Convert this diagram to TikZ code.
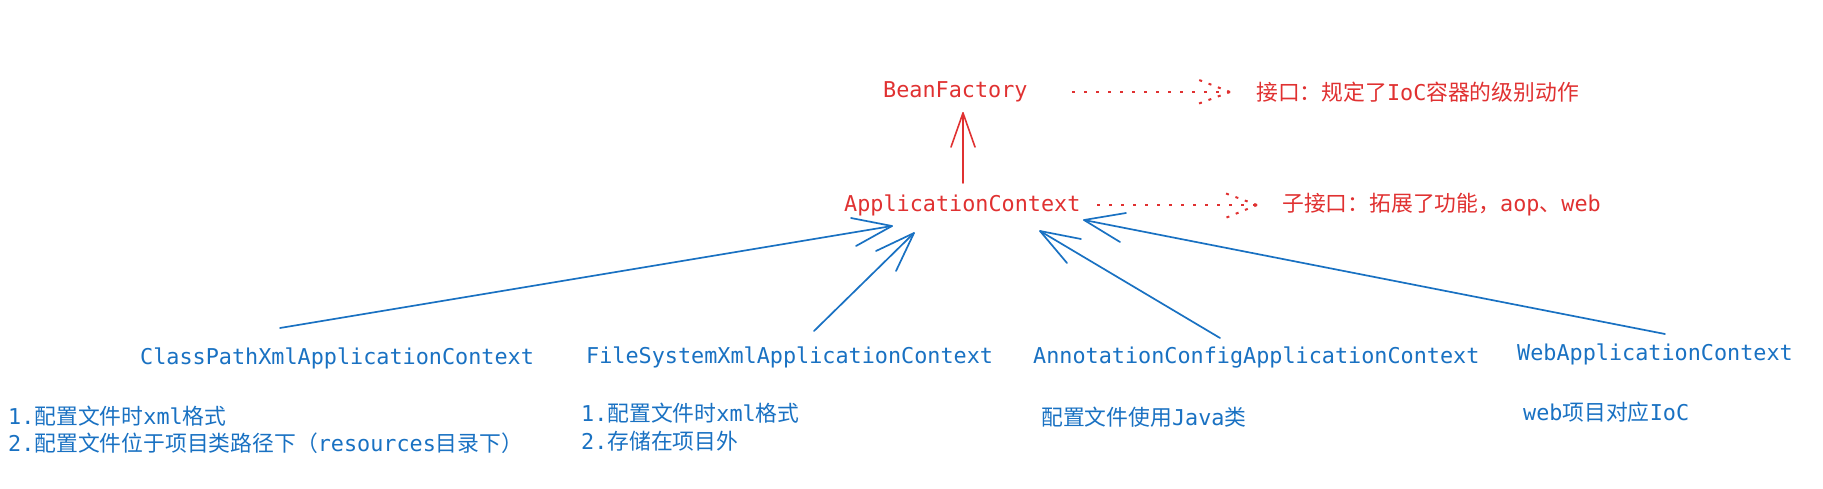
\documentclass[tikz,border=0pt]{standalone}
\usepackage{fontspec}
\setmainfont{DejaVu Sans Mono}
\newfontfamily\cjk{Noto Sans CJK SC}
\definecolor{xred}{HTML}{E03131}
\definecolor{xblue}{HTML}{1971C2}
\begin{document}
\begin{tikzpicture}[x=1pt,y=-1pt,
  lbl/.style={anchor=west, inner sep=0pt, font=\fontsize{21.8}{26}\selectfont},
  redtxt/.style={lbl, text=xred},
  bluetxt/.style={lbl, text=xblue},
  inh/.style={draw=xblue, line width=1.7pt, line cap=round, line join=round},
  ext/.style={draw=xred, line width=1.6pt, line cap=round, line join=round},
  dots/.style={draw=xred, line width=2pt, dash pattern=on 3pt off 9pt},
  headdots/.style={draw=xred, line width=2pt, dash pattern=on 3pt off 7pt}]
\useasboundingbox (0,0) rectangle (1823,488);
% nodes
\node[redtxt] (bf) at (883,92) {BeanFactory};
\node[redtxt] (ac) at (844,205) {ApplicationContext};
\node[redtxt] (l1) at (1256,92) {{\cjk 接口：规定了}IoC{\cjk 容器的级别动作}};
\node[redtxt] (l2) at (1282,205) {{\cjk 子接口：拓展了功能，}aop{\cjk 、}web};
\node[bluetxt] (cp) at (140,358) {ClassPathXmlApplicationContext};
\node[bluetxt] (fs) at (586,357) {FileSystemXmlApplicationContext};
\node[bluetxt] (an) at (1033,357) {AnnotationConfigApplicationContext};
\node[bluetxt] (wb) at (1517,354) {WebApplicationContext};
\node[bluetxt] (d1a) at (8,416) {1.{\cjk 配置文件时}xml{\cjk 格式}};
\node[bluetxt] (d1b) at (8,443) {2.{\cjk 配置文件位于项目类路径下（}resources{\cjk 目录下）}};
\node[bluetxt] (d2a) at (581,413) {1.{\cjk 配置文件时}xml{\cjk 格式}};
\node[bluetxt] (d2b) at (581,441) {2.{\cjk 存储在项目外}};
\node[bluetxt] (d3) at (1041,417) {{\cjk 配置文件使用}Java{\cjk 类}};
\node[bluetxt] (d4) at (1523,412) {web{\cjk 项目对应}IoC};
% connector end points
\coordinate (acB) at (963,183);
\coordinate (bfB) at (963,113);
\coordinate (bfR) at (1072,92);
\coordinate (l1L) at (1230,92);
\coordinate (acR) at (1097,205);
\coordinate (l2L) at (1257,205);
\coordinate (cpT) at (280,328);
\coordinate (acT1) at (892,226);
\coordinate (fsT) at (814,331);
\coordinate (acT2) at (914,233);
\coordinate (anT) at (1220,338);
\coordinate (acT3) at (1040,231);
\coordinate (wbT) at (1665,334);
\coordinate (acT4) at (1084,220);
% ApplicationContext extends BeanFactory
\draw[ext] (acB) -- (bfB);
\draw[ext] (951,147) -- (bfB) -- (975,147);
% dotted notes
\draw[dots] (bfR) -- (l1L);
\draw[headdots] (l1L) -- (1194,78);
\draw[headdots] (l1L) -- (1195,105);
\draw[dots] (acR) -- (l2L);
\draw[headdots] (l2L) -- (1222,192);
\draw[headdots] (l2L) -- (1223,219);
% implementations
\draw[inh] (cpT) -- (acT1);
\draw[inh] (851,218) -- (acT1) -- (856,246);
\draw[inh] (fsT) -- (acT2);
\draw[inh] (876,251) -- (acT2) -- (896,271);
\draw[inh] (anT) -- (acT3);
\draw[inh] (1081,239) -- (acT3) -- (1067,263);
\draw[inh] (wbT) -- (acT4);
\draw[inh] (1126,213) -- (acT4) -- (1120,242);
\end{tikzpicture}
\end{document}
